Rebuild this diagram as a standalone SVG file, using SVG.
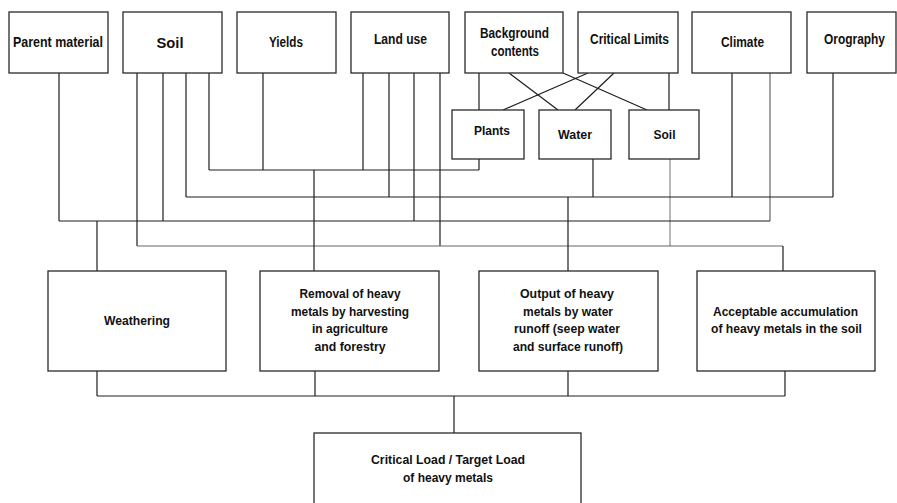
<svg xmlns="http://www.w3.org/2000/svg" width="897" height="503" viewBox="0 0 897 503">
  <style>
    .box { fill: #ffffff; stroke: #2a2a2a; stroke-width: 1.3; }
    .wire { fill: none; stroke: #1e1e1e; stroke-width: 1.2; }
    .wire-grey { fill: none; stroke: #8a8a8a; stroke-width: 1.2; }
    .wire-mid { fill: none; stroke: #666666; stroke-width: 1.2; }
    text { font-family: "Liberation Sans", Arial, sans-serif; font-weight: bold; fill: #111111; text-anchor: middle; }
    .t13 { font-size: 14px; }
    .t12 { font-size: 13.5px; }
  </style>

  <!-- connectors -->
  <g id="connectors">
    <!-- vertical drops from the top row -->
    <path class="wire" d="M59 73V221 M137 73V246 M163 73V221 M186 73V197 M209 73V170 M263 73V170 M363 73V170 M389 73V197 M414 73V221 M440 73V246 M732 73V197 M833 73V197"/>
    <path class="wire-mid" d="M770 73V221"/>
    <!-- drops from the limit boxes -->
    <path class="wire" d="M479 159V170 M593 159V197"/>
    <path class="wire-grey" d="M670 159V246"/>
    <!-- collecting buses -->
    <path class="wire" d="M209 170H479 M186 197H833 M59 221H770"/>
    <path class="wire-mid" d="M137 246H783"/>
    <!-- feeds into the process boxes -->
    <path class="wire" d="M97 221V271 M314 170V271 M568 197V271 M783 246V271"/>
    <!-- background contents / critical limits to receptors -->
    <path class="wire" d="M479 73V110 M669 73V110 M509 73L558 110 M563 73L647 110 M588 73L503 110 M614 73L575 110"/>
    <!-- process boxes to the result -->
    <path class="wire" d="M97 371V396 M315 371V396 M568 371V396 M785 371V396 M97 396H785 M454 396V433"/>
  </g>

  <!-- top row -->
  <g id="parent-material">
    <rect class="box" x="9" y="12" width="99" height="61"/>
    <text class="t13" x="58" y="47" textLength="90" lengthAdjust="spacingAndGlyphs">Parent material</text>
  </g>
  <g id="soil">
    <rect class="box" x="123" y="12" width="99" height="61"/>
    <text class="t13" x="170" y="48" textLength="27" lengthAdjust="spacingAndGlyphs">Soil</text>
  </g>
  <g id="yields">
    <rect class="box" x="237" y="12" width="99" height="61"/>
    <text class="t13" x="286" y="47" textLength="34" lengthAdjust="spacingAndGlyphs">Yields</text>
  </g>
  <g id="land-use">
    <rect class="box" x="351" y="12" width="98" height="61"/>
    <text class="t13" x="400.5" y="44" textLength="53" lengthAdjust="spacingAndGlyphs">Land use</text>
  </g>
  <g id="background-contents">
    <rect class="box" x="465" y="12" width="98" height="61"/>
    <text class="t13" x="514.5" y="38" textLength="69" lengthAdjust="spacingAndGlyphs">Background</text>
    <text class="t13" x="515" y="56" textLength="48" lengthAdjust="spacingAndGlyphs">contents</text>
  </g>
  <g id="critical-limits">
    <rect class="box" x="578" y="12" width="100" height="61"/>
    <text class="t13" x="629.5" y="44" textLength="79" lengthAdjust="spacingAndGlyphs">Critical Limits</text>
  </g>
  <g id="climate">
    <rect class="box" x="692" y="12" width="99" height="61"/>
    <text class="t13" x="742.5" y="47" textLength="43" lengthAdjust="spacingAndGlyphs">Climate</text>
  </g>
  <g id="orography">
    <rect class="box" x="807" y="12" width="89" height="61"/>
    <text class="t13" x="854.5" y="44" textLength="61" lengthAdjust="spacingAndGlyphs">Orography</text>
  </g>

  <!-- receptors -->
  <g id="plants">
    <rect class="box" x="452" y="110" width="72" height="49"/>
    <text class="t12" x="492" y="135" textLength="36" lengthAdjust="spacingAndGlyphs">Plants</text>
  </g>
  <g id="water">
    <rect class="box" x="539" y="110" width="72" height="49"/>
    <text class="t12" x="575" y="139" textLength="34" lengthAdjust="spacingAndGlyphs">Water</text>
  </g>
  <g id="soil-receptor">
    <rect class="box" x="629" y="110" width="70" height="49"/>
    <text class="t12" x="664.5" y="139" textLength="22" lengthAdjust="spacingAndGlyphs">Soil</text>
  </g>

  <!-- process terms -->
  <g id="weathering">
    <rect class="box" x="48" y="271" width="178" height="100"/>
    <text class="t12" x="137" y="325" textLength="66" lengthAdjust="spacingAndGlyphs">Weathering</text>
  </g>
  <g id="removal">
    <rect class="box" x="260" y="271" width="179" height="100"/>
    <text class="t12" x="350" y="298" textLength="101" lengthAdjust="spacingAndGlyphs">Removal of heavy</text>
    <text class="t12" x="350" y="316" textLength="118" lengthAdjust="spacingAndGlyphs">metals by harvesting</text>
    <text class="t12" x="350" y="333" textLength="76" lengthAdjust="spacingAndGlyphs">in agriculture</text>
    <text class="t12" x="350" y="351" textLength="71" lengthAdjust="spacingAndGlyphs">and forestry</text>
  </g>
  <g id="output">
    <rect class="box" x="479" y="271" width="179" height="100"/>
    <text class="t12" x="567" y="298" textLength="94" lengthAdjust="spacingAndGlyphs">Output of heavy</text>
    <text class="t12" x="568" y="316" textLength="90" lengthAdjust="spacingAndGlyphs">metals by water</text>
    <text class="t12" x="567" y="333" textLength="106" lengthAdjust="spacingAndGlyphs">runoff (seep water</text>
    <text class="t12" x="568" y="351" textLength="110" lengthAdjust="spacingAndGlyphs">and surface runoff)</text>
  </g>
  <g id="accumulation">
    <rect class="box" x="697" y="271" width="178" height="100"/>
    <text class="t12" x="785.5" y="316" textLength="145" lengthAdjust="spacingAndGlyphs">Acceptable accumulation</text>
    <text class="t12" x="786.5" y="333" textLength="151" lengthAdjust="spacingAndGlyphs">of heavy metals in the soil</text>
  </g>

  <!-- result -->
  <g id="critical-load">
    <rect class="box" x="314" y="433" width="267" height="80"/>
    <text class="t12" x="448" y="464" textLength="154" lengthAdjust="spacingAndGlyphs">Critical Load / Target Load</text>
    <text class="t12" x="448" y="482" textLength="90" lengthAdjust="spacingAndGlyphs">of heavy metals</text>
  </g>
</svg>
